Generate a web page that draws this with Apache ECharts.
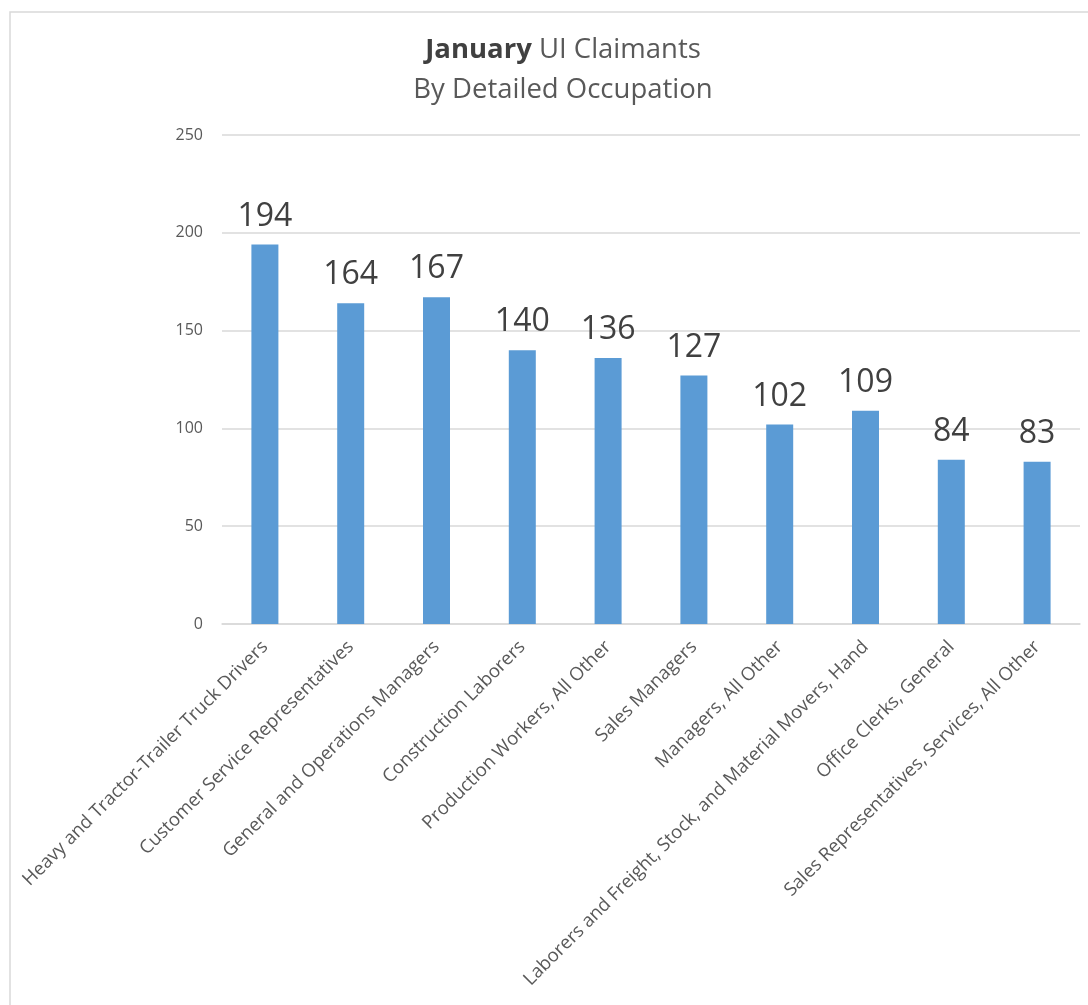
<!DOCTYPE html>
<html>
<head>
<meta charset="utf-8">
<script src="https://cdn.jsdelivr.net/npm/echarts@6/dist/echarts.min.js"></script>
<style>
html,body{margin:0;padding:0;background:#fff;}
#chart{width:1088px;height:1005px;}
</style>
</head>
<body>
<div id="chart"></div>
<script>
const categories = [
  "Heavy and Tractor-Trailer Truck Drivers",
  "Customer Service Representatives",
  "General and Operations Managers",
  "Construction Laborers",
  "Production Workers, All Other",
  "Sales Managers",
  "Managers, All Other",
  "Laborers and Freight, Stock, and Material Movers, Hand",
  "Office Clerks, General",
  "Sales Representatives, Services, All Other"
];
const claimants = [194, 164, 167, 140, 136, 127, 102, 109, 84, 83];
const yTicks = { min: 0, max: 250, interval: 50 };

const chart = echarts.init(document.getElementById('chart'), null, {renderer: 'canvas'});
const FONT = '"Open Sans", "Noto Sans", sans-serif';
chart.setOption({
  backgroundColor: '#ffffff',
  animation: false,
  graphic: [{
    type: 'rect', z: -10, silent: true,
    shape: {x: 10, y: 12, width: 1200, height: 1200},
    style: {fill: '#ffffff', stroke: '#d9d9d9', lineWidth: 1.5}
  }],
  title: {
    text: '{b|January}{n| UI Claimants}\n{n|By Detailed Occupation}',
    left: 558, top: 25, textAlign: 'center',
    textStyle: {
      fontFamily: FONT, fontWeight: 'normal',
      rich: {
        b: {fontSize: 27.5, fontWeight: 'bold', color: '#404040', fontFamily: FONT, lineHeight: 40},
        n: {fontSize: 27.5, fontWeight: 'normal', color: '#595959', fontFamily: FONT, lineHeight: 40}
      }
    }
  },
  grid: {left: 222, right: 8, top: 135, bottom: 381, containLabel: false},
  xAxis: {
    type: 'category',
    data: categories,
    axisLine: {lineStyle: {color: '#d9d9d9', width: 1.5}},
    axisTick: {show: false},
    axisLabel: {
      interval: 0, rotate: 45, margin: 20,
      color: '#595959', fontSize: 18.5, fontFamily: FONT
    }
  },
  yAxis: {
    type: 'value',
    min: yTicks.min, max: yTicks.max, interval: yTicks.interval,
    axisLine: {show: false},
    axisTick: {show: false},
    splitLine: {lineStyle: {color: '#d9d9d9', width: 1.5}},
    axisLabel: {color: '#595959', fontSize: 16, fontFamily: FONT, margin: 19}
  },
  series: [{
    type: 'bar',
    data: claimants,
    barWidth: 27,
    itemStyle: {color: '#5B9BD5'},
    label: {
      show: true, position: 'top', distance: 12,
      color: '#404040', fontSize: 32, fontFamily: FONT
    }
  }]
});
</script>
</body>
</html>
